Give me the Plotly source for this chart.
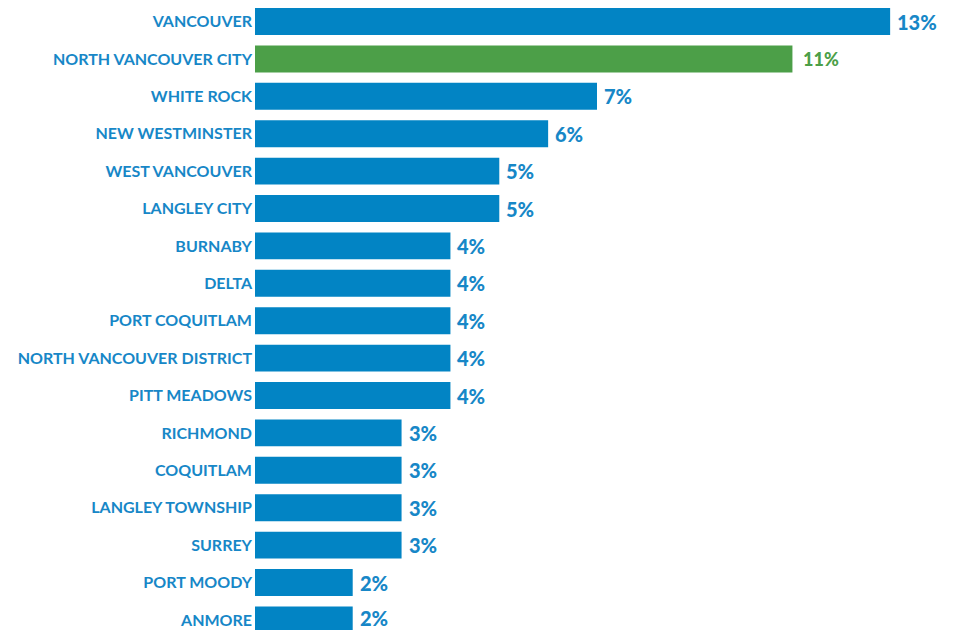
import plotly.graph_objects as go

# Share by municipality (percent)
municipalities = [
    "VANCOUVER", "NORTH VANCOUVER CITY", "WHITE ROCK", "NEW WESTMINSTER",
    "WEST VANCOUVER", "LANGLEY CITY", "BURNABY", "DELTA", "PORT COQUITLAM",
    "NORTH VANCOUVER DISTRICT", "PITT MEADOWS", "RICHMOND", "COQUITLAM",
    "LANGLEY TOWNSHIP", "SURREY", "PORT MOODY", "ANMORE",
]
shares = [13, 11, 7, 6, 5, 5, 4, 4, 4, 4, 4, 3, 3, 3, 3, 2, 2]
highlight = "NORTH VANCOUVER CITY"

BLUE = "#0284c4"
TEXT_BLUE = "#1787c7"
GREEN = "#4c9f48"

bar_colors = [GREEN if m == highlight else BLUE for m in municipalities]

fig = go.Figure(
    go.Bar(
        x=shares,
        y=municipalities,
        orientation="h",
        marker=dict(color=bar_colors, line=dict(width=0)),
        hoverinfo="skip",
    )
)

# Value labels just past the end of each bar
last = len(municipalities) - 1
for i, (m, v) in enumerate(zip(municipalities, shares)):
    is_hl = m == highlight
    fig.add_annotation(
        x=v,
        y=m,
        text=f"{v}%",
        showarrow=False,
        xanchor="left",
        yanchor="middle",
        xshift=10 if is_hl else 6,
        yshift=2 if i == last else 0,
        borderpad=0,
        font=dict(
            family="Lato",
            size=18 if is_hl else 20,
            color=GREEN if is_hl else TEXT_BLUE,
            weight=900,
        ),
    )

fig.update_layout(
    width=959,
    height=630,
    margin=dict(l=255, r=20, t=3, b=0),
    paper_bgcolor="white",
    plot_bgcolor="white",
    bargap=0.28,
    showlegend=False,
    font=dict(family="Lato"),
)
fig.update_xaxes(range=[0, 14], visible=False, showgrid=False, zeroline=False)
fig.update_yaxes(
    type="category",
    range=[16.27, -0.495],
    showgrid=False,
    zeroline=False,
    showline=False,
    ticks="",
    ticklabelstandoff=2,
    tickfont=dict(family="Lato", size=16, color=TEXT_BLUE, weight="bold"),
)

fig.write_html("out.html")
